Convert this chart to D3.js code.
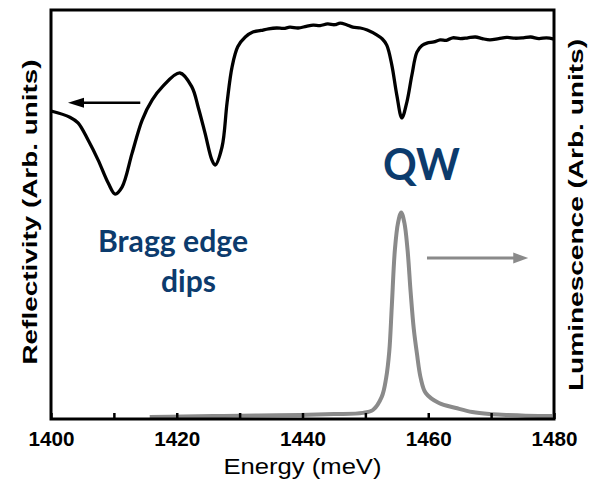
<!DOCTYPE html>
<html>
<head>
<meta charset="utf-8">
<script src="https://cdn.jsdelivr.net/npm/d3@7"></script>
<style>
  html, body { margin: 0; padding: 0; background: #fff; }
  svg { display: block; }
</style>
</head>
<body>
<svg id="chart" width="589" height="481"></svg>
<script>
// Reflectivity spectrum (black, left axis, arb. units 0-100)
const reflEnergy = [1400.0, 1403.0, 1404.3, 1405.9, 1407.5, 1409.1, 1410.2, 1411.3, 1412.9, 1414.5,
  1416.1, 1417.7, 1420.5, 1422.4, 1423.4, 1424.5, 1425.6, 1426.1, 1427.2, 1428.0,
  1428.8, 1429.7, 1430.9, 1432.1, 1433.4, 1434.6, 1435.9, 1437.0, 1438.0, 1439.3,
  1440.6, 1441.7, 1442.8, 1444.0, 1445.1, 1446.0, 1447.0, 1448.0, 1449.2, 1450.3,
  1451.8, 1452.7, 1453.4, 1454.2, 1455.0, 1455.8, 1456.6, 1457.4, 1458.2, 1459.0,
  1459.8, 1460.9, 1461.9, 1462.9, 1463.9, 1465.1, 1466.3, 1467.5, 1468.6, 1469.8,
  1471.2, 1472.5, 1473.8, 1475.1, 1476.3, 1477.6, 1478.8, 1480.0];
const reflectivity = [75.3, 73.8, 72.4, 68.2, 63.3, 57.7, 55.0, 56.7, 65.0, 73.1,
  78.0, 81.2, 84.6, 81.2, 76.3, 69.9, 63.3, 62.1, 66.5, 77.3,
  86.1, 91.0, 93.4, 94.6, 95.0, 95.4, 95.6, 95.5, 95.8, 95.6,
  96.0, 96.3, 96.2, 96.6, 96.4, 96.8, 96.4, 95.8, 95.6, 95.1,
  93.9, 92.9, 91.4, 86.6, 79.2, 73.6, 77.5, 84.1, 89.7, 91.3,
  91.9, 92.2, 92.7, 92.6, 93.2, 93.0, 93.2, 93.4, 93.0, 92.7,
  93.0, 93.3, 93.1, 93.2, 93.4, 93.0, 93.2, 92.9];

// Luminescence spectrum (grey, right axis, arb. units)
const lumEnergy = [1415.7, 1421.0, 1426.9, 1433.0, 1439.6, 1445.0, 1449.6, 1451.2, 1452.6, 1453.3,
  1453.8, 1454.2, 1454.7, 1455.2, 1455.7, 1456.2, 1456.7, 1457.2, 1457.7, 1458.2,
  1458.8, 1459.6, 1461.7, 1464.4, 1467.0, 1469.7, 1472.4, 1477.6, 1479.7];
const luminescence = [0.010, 0.012, 0.015, 0.017, 0.020, 0.024, 0.030, 0.044, 0.108, 0.20,
  0.33, 0.55, 0.83, 0.96, 1.01, 0.96, 0.83, 0.62, 0.44, 0.32,
  0.20, 0.127, 0.078, 0.054, 0.034, 0.024, 0.020, 0.015, 0.015];

// Axis ticks
const xTicks = [1400, 1410, 1420, 1430, 1440, 1450, 1460, 1470, 1480];
const xTickLabels = [1400, 1420, 1440, 1460, 1480];

const svg = d3.select("#chart");
const plot = { left: 51, right: 554, top: 10, bottom: 419 };

const x = d3.scaleLinear().domain([1400, 1480]).range([plot.left, plot.right]);
const yRefl = d3.scaleLinear().domain([0, 100]).range([plot.bottom, plot.top]);
const yLum = d3.scaleLinear().domain([0, 2]).range([plot.bottom, plot.top]);

const blue = "#0c3b6d";
const grey = "#8a8a8a";

// Luminescence curve
const lumLine = d3.line()
  .x((d, i) => x(lumEnergy[i]))
  .y(d => yLum(d))
  .curve(d3.curveCatmullRom.alpha(0.5));
svg.append("path")
  .attr("d", lumLine(luminescence))
  .attr("fill", "none")
  .attr("stroke", grey)
  .attr("stroke-width", 4)
  .attr("stroke-linejoin", "round");

// Reflectivity curve
const reflLine = d3.line()
  .x((d, i) => x(reflEnergy[i]))
  .y(d => yRefl(d))
  .curve(d3.curveCatmullRom.alpha(0.5));
svg.append("path")
  .attr("d", reflLine(reflectivity))
  .attr("fill", "none")
  .attr("stroke", "#000")
  .attr("stroke-width", 3.3)
  .attr("stroke-linejoin", "round");

// Bottom axis with inward ticks
const xAxis = d3.axisBottom(x)
  .tickValues(xTicks)
  .tickSizeInner(-6)
  .tickSizeOuter(0)
  .tickPadding(12)
  .tickFormat(d => xTickLabels.includes(d) ? d : "");
const gx = svg.append("g")
  .attr("transform", `translate(0,${plot.bottom})`)
  .call(xAxis);
gx.select(".domain").remove();
gx.selectAll(".tick line").attr("stroke", "#000").attr("stroke-width", 2.5);
gx.selectAll(".tick text")
  .attr("fill", "#000")
  .style("font-family", "'Liberation Sans', Arial, sans-serif")
  .style("font-weight", "bold")
  .style("font-size", "21px")
  .attr("textLength", d => xTickLabels.includes(d) ? 46 : null)
  .attr("lengthAdjust", "spacingAndGlyphs");

// Frame
svg.append("rect")
  .attr("x", plot.left)
  .attr("y", plot.top)
  .attr("width", plot.right - plot.left)
  .attr("height", plot.bottom - plot.top)
  .attr("fill", "none")
  .attr("stroke", "#000")
  .attr("stroke-width", 3);

// Axis titles
svg.append("text")
  .attr("x", (plot.left + plot.right) / 2)
  .attr("y", 474)
  .attr("text-anchor", "middle")
  .style("font-family", "'Liberation Sans', Arial, sans-serif")
  .style("font-size", "22px")
  .attr("textLength", 158)
  .attr("lengthAdjust", "spacingAndGlyphs")
  .text("Energy (meV)");

svg.append("text")
  .attr("transform", "translate(37,212) rotate(-90)")
  .attr("text-anchor", "middle")
  .style("font-family", "'Liberation Sans', Arial, sans-serif")
  .style("font-weight", "bold")
  .style("font-size", "20px")
  .attr("textLength", 305)
  .attr("lengthAdjust", "spacingAndGlyphs")
  .text("Reflectivity (Arb. units)");

svg.append("text")
  .attr("transform", "translate(583,215) rotate(-90)")
  .attr("text-anchor", "middle")
  .style("font-family", "'Liberation Sans', Arial, sans-serif")
  .style("font-weight", "bold")
  .style("font-size", "21px")
  .attr("textLength", 352)
  .attr("lengthAdjust", "spacingAndGlyphs")
  .text("Luminescence (Arb. units)");

// Direction arrows
function arrow(x1, x2, yPix, color, width, headLen, headHalf) {
  const dir = Math.sign(x2 - x1);
  svg.append("line")
    .attr("x1", x1).attr("x2", x2 - dir * headLen * 0.6)
    .attr("y1", yPix).attr("y2", yPix)
    .attr("stroke", color).attr("stroke-width", width);
  svg.append("path")
    .attr("d", `M${x2},${yPix} L${x2 - dir * headLen},${yPix - headHalf} L${x2 - dir * headLen},${yPix + headHalf} Z`)
    .attr("fill", color);
}
arrow(x(1414.2), x(1402.7), yRefl(77.3), "#000", 2.5, 16, 5);
arrow(x(1459.8), x(1475.9), yLum(0.787), grey, 3, 15, 5.5);

// Annotations
const annoFont = "Lato, 'Open Sans', sans-serif";
svg.append("text")
  .attr("x", 98).attr("y", 252)
  .attr("fill", blue)
  .style("font-family", annoFont)
  .style("font-weight", "bold")
  .style("font-size", "30px")
  .attr("textLength", 150)
  .attr("lengthAdjust", "spacingAndGlyphs")
  .text("Bragg edge");
svg.append("text")
  .attr("x", 161).attr("y", 292)
  .attr("fill", blue)
  .style("font-family", annoFont)
  .style("font-weight", "bold")
  .style("font-size", "30px")
  .text("dips");
svg.append("text")
  .attr("x", 383).attr("y", 180)
  .attr("fill", blue)
  .style("font-family", annoFont)
  .style("font-weight", "bold")
  .style("font-size", "43px")
  .attr("textLength", 77)
  .attr("lengthAdjust", "spacingAndGlyphs")
  .text("QW");
</script>
</body>
</html>
